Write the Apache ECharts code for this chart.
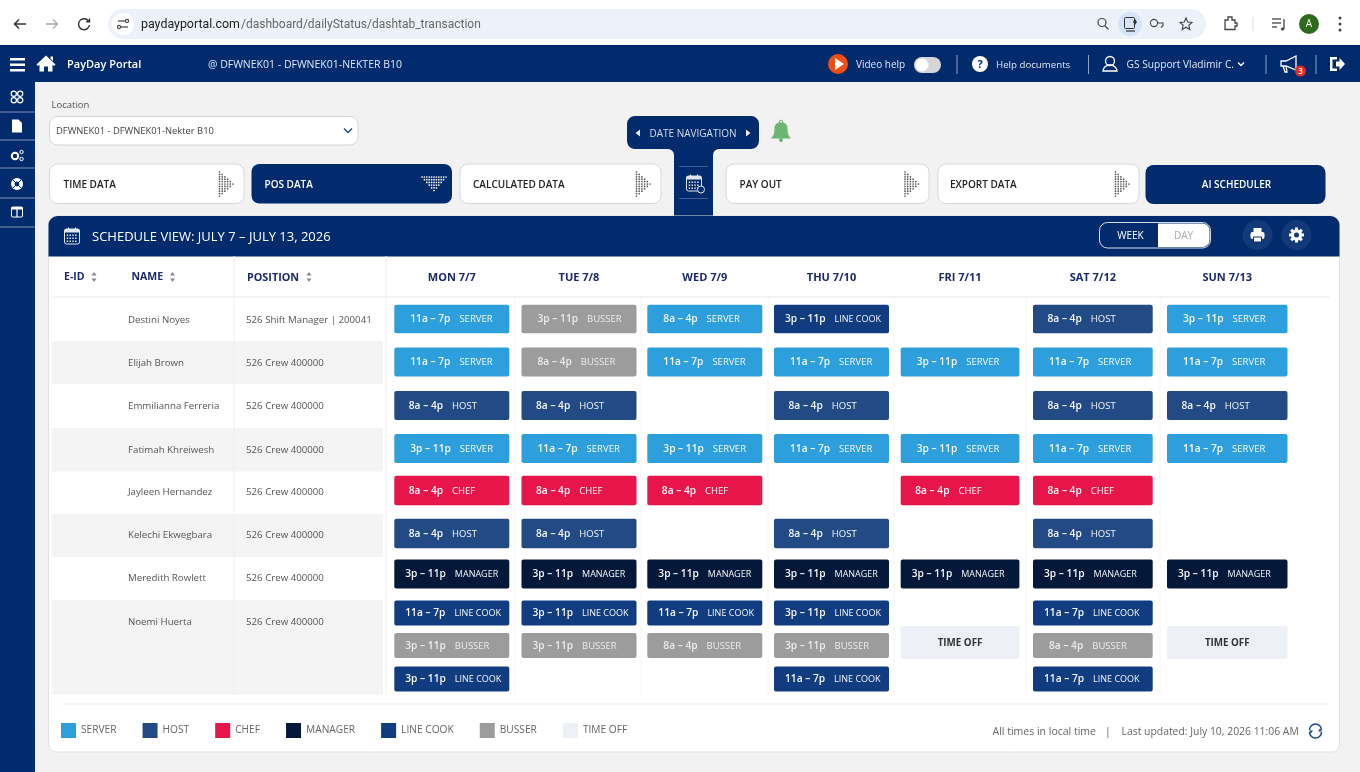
<!DOCTYPE html>
<html>
<head>
<meta charset="utf-8">
<title>PayDay Portal schedule</title>
<script src="https://cdn.jsdelivr.net/npm/echarts@6/dist/echarts.min.js"></script>
<style>
html, body { margin: 0; padding: 0; background: #f2f2f2; }
#main { width: 1360px; height: 772px; }
</style>
</head>
<body>
<div id="main"></div>
<script>
// ---- data ----
const days = ['MON 7/7', 'TUE 7/8', 'WED 7/9', 'THU 7/10', 'FRI 7/11', 'SAT 7/12', 'SUN 7/13'];
const roles = ['SERVER', 'HOST', 'CHEF', 'MANAGER', 'LINE COOK', 'BUSSER', 'TIME OFF'];
const employees = ['Destini Noyes', 'Elijah Brown', 'Emmilianna Ferreria', 'Fatimah Khreiwesh', 'Jayleen Hernandez', 'Kelechi Ekwegbara', 'Meredith Rowlett', 'Noemi Huerta'];
const positions = ['526 Shift Manager | 200041', '526 Crew 400000', '526 Crew 400000', '526 Crew 400000', '526 Crew 400000', '526 Crew 400000', '526 Crew 400000', '526 Crew 400000'];

// one list per table lane, Monday to Sunday, null = no shift
const destiniShifts = [['11a – 7p', 'SERVER'], ['3p – 11p', 'BUSSER'], ['8a – 4p', 'SERVER'], ['3p – 11p', 'LINE COOK'], null, ['8a – 4p', 'HOST'], ['3p – 11p', 'SERVER']];
const elijahShifts = [['11a – 7p', 'SERVER'], ['8a – 4p', 'BUSSER'], ['11a – 7p', 'SERVER'], ['11a – 7p', 'SERVER'], ['3p – 11p', 'SERVER'], ['11a – 7p', 'SERVER'], ['11a – 7p', 'SERVER']];
const emmiShifts = [['8a – 4p', 'HOST'], ['8a – 4p', 'HOST'], null, ['8a – 4p', 'HOST'], null, ['8a – 4p', 'HOST'], ['8a – 4p', 'HOST']];
const fatimahShifts = [['3p – 11p', 'SERVER'], ['11a – 7p', 'SERVER'], ['3p – 11p', 'SERVER'], ['11a – 7p', 'SERVER'], ['3p – 11p', 'SERVER'], ['11a – 7p', 'SERVER'], ['11a – 7p', 'SERVER']];
const jayleenShifts = [['8a – 4p', 'CHEF'], ['8a – 4p', 'CHEF'], ['8a – 4p', 'CHEF'], null, ['8a – 4p', 'CHEF'], ['8a – 4p', 'CHEF'], null];
const kelechiShifts = [['8a – 4p', 'HOST'], ['8a – 4p', 'HOST'], null, ['8a – 4p', 'HOST'], null, ['8a – 4p', 'HOST'], null];
const meredithShifts = [['3p – 11p', 'MANAGER'], ['3p – 11p', 'MANAGER'], ['3p – 11p', 'MANAGER'], ['3p – 11p', 'MANAGER'], ['3p – 11p', 'MANAGER'], ['3p – 11p', 'MANAGER'], ['3p – 11p', 'MANAGER']];
const noemiShifts1 = [['11a – 7p', 'LINE COOK'], ['3p – 11p', 'LINE COOK'], ['11a – 7p', 'LINE COOK'], ['3p – 11p', 'LINE COOK'], null, ['11a – 7p', 'LINE COOK'], null];
const noemiShifts2 = [['3p – 11p', 'BUSSER'], ['3p – 11p', 'BUSSER'], ['8a – 4p', 'BUSSER'], ['3p – 11p', 'BUSSER'], ['', 'TIME OFF'], ['8a – 4p', 'BUSSER'], ['', 'TIME OFF']];
const noemiShifts3 = [['3p – 11p', 'LINE COOK'], null, null, ['11a – 7p', 'LINE COOK'], null, ['11a – 7p', 'LINE COOK'], null];
const lanes = [destiniShifts, elijahShifts, emmiShifts, fatimahShifts, jayleenShifts, kelechiShifts, meredithShifts, noemiShifts1, noemiShifts2, noemiShifts3];

// ---- layout and styles ----
const navy = '#022b6d';
const font = '"Open Sans", sans-serif';
const roleColors = { 'SERVER': '#2c9fdc', 'HOST': '#224a85', 'CHEF': '#e8154a', 'MANAGER': '#04193a', 'LINE COOK': '#113d80', 'BUSSER': '#9c9c9c', 'TIME OFF': '#edf0f6' };
const roleTextLeft = { 'SERVER': 16, 'HOST': 14.5, 'CHEF': 14.5, 'MANAGER': 11, 'LINE COOK': 11, 'BUSSER': 16 };
const dayLeft = [394.3, 521.5, 647.3, 774, 900.7, 1033, 1167];
const dayWidth = [115, 115, 115, 115, 118.7, 119.7, 120.5];
const laneCenter = [21, 64, 107.5, 150.5, 192.5, 235.5, 276, 315, 347.5, 381];
const laneHeight = [28.5, 29, 29, 29, 29.5, 29.5, 29, 25, 25, 25];
const rowTextY = [319, 362, 405.5, 449.5, 491.5, 534.5, 577.5, 621.5];
const stripeBands = [[341, 43], [428, 43.5], [514, 43], [600, 94.5]];
const columnRules = [515, 641, 768, 894, 1026, 1160];

// ---- graphic helpers ----
let shapeCount = 0;
function rect(x, y, w, h, fill, r, stroke) {
    return { type: 'rect', shape: { x: x, y: y, width: w, height: h, r: r || 0 }, style: { fill: fill, stroke: stroke || null, lineWidth: 1 } };
}
function text(x, y, str, size, color, weight, align) {
    return { type: 'text', x: x, y: y + 1, style: { text: str, fontSize: size, fill: color, fontWeight: weight || 400, fontFamily: font, align: align || 'left', verticalAlign: 'middle' } };
}
function line(x1, y1, x2, y2, color, w) {
    return { type: 'line', shape: { x1: x1, y1: y1, x2: x2, y2: y2 }, style: { stroke: color, lineWidth: w || 1 } };
}
function circle(x, y, r, fill, stroke, w) {
    return { type: 'circle', shape: { cx: x, cy: y, r: r }, style: { fill: fill, stroke: stroke || null, lineWidth: w || 1 } };
}
function tri(points, fill) {
    return { type: 'polygon', shape: { points: points }, style: { fill: fill } };
}
// svg path icon, drawn around 0,0
function icon(d, x, y, fill, stroke, w) {
    const name = 'iconShape' + (shapeCount++);
    echarts.graphic.registerShape(name, echarts.graphic.extendPath(d, {}));
    return { type: name, x: x, y: y, style: { fill: fill || null, stroke: stroke || null, lineWidth: w || 1 } };
}
function dotsRight(x, y, color) {
    const out = [];
    [11, 9, 7, 5, 3, 1].forEach((n, c) => {
        for (let i = 0; i < n; i++) out.push(circle(x + c * 2.7, y + (i - (n - 1) / 2) * 2.4, 0.85, color));
    });
    return out;
}
function dotsDown(x, y, color) {
    const out = [];
    [11, 9, 7, 5, 3, 1].forEach((n, c) => {
        for (let i = 0; i < n; i++) out.push(circle(x + (i - (n - 1) / 2) * 2.4, y + c * 2.7, 0.85, color));
    });
    return out;
}
// small calendar with date dots
function calendar(x, y, color, bg) {
    const out = [rect(x, y, 15, 15, bg, 2, color), rect(x, y, 15, 3.5, color, 1), line(x + 4, y - 1.5, x + 4, y + 1.5, color, 1.2), line(x + 11, y - 1.5, x + 11, y + 1.5, color, 1.2)];
    [0, 1, 2, 3].forEach(c => [0, 1, 2].forEach(r => out.push(rect(x + 2.2 + c * 2.8, y + 5.5 + r * 3, 1.5, 1.5, color))));
    return out;
}

// ---- page chrome ----
function browserBar() {
    return [
        rect(0, 0, 1360, 45, '#ffffff'),
        icon('M6 0H-5.5M-1-4.5L-5.5 0L-1 4.5', 20, 24, null, '#333', 1.5),
        icon('M-6 0H5.5M1-4.5L5.5 0L1 4.5', 52, 24, null, '#aaa', 1.3),
        icon('M4.5-3A5.5 5.5 0 1 0 5.5 1M5.5-5.5V-2.2H2.2', 84, 24, null, '#333', 1.4),
        rect(108, 9, 1098, 30, '#edf2fa', 15),
        circle(123, 24, 11, '#ffffff'),
        line(118, 21, 125, 21, '#444', 1.2), circle(127, 21, 1.6, null, '#444', 1.1),
        line(121, 27, 128, 27, '#444', 1.2), circle(119, 27, 1.6, null, '#444', 1.1),
        { type: 'text', x: 141, y: 25, style: { text: 'paydayportal.com', fontSize: 12.4, fill: '#222', fontFamily: 'Roboto', verticalAlign: 'middle' } },
        { type: 'text', x: 241, y: 25, style: { text: '/dashboard/dailyStatus/dashtab_transaction', fontSize: 12, fill: '#666', fontFamily: 'Roboto', verticalAlign: 'middle' } },
        circle(1102, 22.5, 4, null, '#444', 1.2), line(1105, 26, 1108.5, 29.5, '#444', 1.3),
        circle(1130, 24, 12, '#d6e4f7'),
        rect(1124.5, 17.5, 10, 11, null, 1, '#333'), line(1126, 31, 1135, 31, '#333', 1.2), tri([[1135, 19], [1137, 22], [1135, 25], [1133, 22]], '#333'),
        circle(1154, 23, 3.6, null, '#444', 1.1), icon('M3.6-1H9V1.5L7 3.5', 1154, 24, null, '#444', 1.1),
        icon('M0-6L1.7-2L6-1.5L2.8 1.3L3.8 5.5L0 3.2L-3.8 5.5L-2.8 1.3L-6-1.5L-1.7-2Z', 1186, 24, null, '#444', 1.1),
        icon('M-5-3H-2V-6H2V-3H5V0H7V3H5V6.5H-5Z', 1230, 23, null, '#444', 1.3),
        line(1253, 17, 1253, 31, '#d5dbe6', 1),
        line(1272, 19, 1281, 19, '#444', 1.3), line(1272, 23, 1281, 23, '#444', 1.3), line(1272, 27, 1277, 27, '#444', 1.3),
        line(1284, 19, 1284, 29, '#444', 1.3), circle(1282.5, 29, 1.6, '#444'),
        circle(1309, 24, 10, '#2d6a1e'),
        text(1309, 23.5, 'A', 10, '#ffffff', 500, 'center'),
        circle(1340, 18, 1.5, '#444'), circle(1340, 24, 1.5, '#444'), circle(1340, 30, 1.5, '#444')
    ];
}

function navBar() {
    return [
        rect(0, 45, 1360, 37, navy),
        rect(10, 58, 15, 2.5, '#fff'), rect(10, 63.5, 15, 2.5, '#fff'), rect(10, 69, 15, 2.5, '#fff'),
        icon('M0-8.5L9.5 0.5L8 2L6.5 0.8V7.5H2V2.5H-2V7.5H-6.5V0.8L-8 2L-9.5 0.5ZM4.5-7.5H7V-3L4.5-5.2Z', 46, 64, '#ffffff'),
        text(67, 64, 'PayDay Portal', 11, '#ffffff', 600),
        text(208, 64, '@ DFWNEK01 - DFWNEK01-NEKTER B10', 10.5, '#dfe6f2'),
        circle(838, 64, 10, '#f04e16'),
        tri([[835, 58], [835, 70], [844, 64]], '#ffffff'),
        text(856, 64, 'Video help', 10, '#dfe6f2'),
        rect(914, 57, 27, 16, '#d4d6da', 8), circle(922, 65, 6.5, '#ffffff'),
        line(957, 55, 957, 74, '#8ea3c6'),
        circle(980, 64, 8, '#ffffff'),
        { type: 'text', x: 980, y: 65, style: { text: '?', fontSize: 11, fill: navy, fontWeight: 700, fontFamily: font, align: 'center', verticalAlign: 'middle' } },
        text(996, 64, 'Help documents', 9.7, '#dfe6f2'),
        line(1088.5, 55, 1088.5, 74, '#8ea3c6'),
        circle(1110, 61, 4.5, null, '#fff', 1.3),
        icon('M-7 7C-7 3-4 2-2 1H2C4 2 7 3 7 7Z', 1110, 64, null, '#fff', 1.3),
        text(1126.5, 64, 'GS Support Vladimir C.', 10.2, '#dfe6f2'),
        icon('M-3-1.5L0 1.5L3-1.5', 1241, 64, null, '#fff', 1.3),
        line(1266, 55, 1266, 74, '#8ea3c6'),
        icon('M-8-3H-3L7-8V6L-3 2H-8ZM-6 2L-4 8H-2L-3 2', 1289, 64, null, '#fff', 1.3),
        circle(1300.5, 71, 5.5, '#e52b1f'),
        text(1300.5, 70.5, '3', 8, '#ffffff', 600, 'center'),
        line(1316, 55, 1316, 74, '#8ea3c6'),
        icon('M-7-7H0V-4.5H-4.5V4.5H0V7H-7ZM-1-2.5H2.5V-6L8 0L2.5 6V2.5H-1Z', 1337, 64, '#ffffff')
    ];
}

function sideBar() {
    const ruleY = [82, 112, 140, 168, 198, 227];
    const out = [rect(0, 82, 35, 690, navy)];
    ruleY.slice(1).forEach(y => out.push(line(0, y, 35, y, '#7f93b8', 1)));
    [[-3.2, -3.2], [3.2, -3.2], [-3.2, 3.2], [3.2, 3.2]].forEach(p => out.push(circle(17 + p[0], 97 + p[1], 2.6, null, '#fff', 1.2)));
    out.push(icon('M-5-6.5H1.5L5-3V6.5H-5Z', 17, 126, '#ffffff'));
    out.push(circle(15, 156, 3.2, null, '#fff', 2), circle(21.5, 152, 1.7, null, '#fff', 1), circle(21.5, 159, 1.7, null, '#fff', 1));
    out.push(circle(17, 184, 6, '#ffffff'), circle(17, 184, 2.4, navy), line(13, 180, 21, 188, navy, 1), line(21, 180, 13, 188, navy, 1));
    out.push(rect(11.5, 207, 11, 10, null, 1, '#fff'), rect(11.5, 207, 11, 2.5, '#fff'), line(17, 207, 17, 217, '#fff', 1.2));
    return out;
}

function toolbar() {
    const tShape = 'M8 0H124A8 8 0 0 1 132 8V25A8 8 0 0 1 124 33H92A6 6 0 0 0 86 39V100H47V39A6 6 0 0 0 41 33H8A8 8 0 0 1 0 25V8A8 8 0 0 1 8 0Z';
    const whiteTab = [[49.5, 194.5, 'TIME DATA', 63.5, 219.5], [460, 201, 'CALCULATED DATA', 473, 636.5], [726, 203, 'PAY OUT', 739.5, 905], [938, 201, 'EXPORT DATA', 950, 1115.5]];
    let out = [
        rect(35, 82, 1325, 690, '#f2f2f2'),
        text(51.5, 104, 'Location', 9.5, '#555'),
        rect(49.5, 116.5, 308.5, 28.5, '#ffffff', 8, '#d6d6d6'),
        text(56, 130, 'DFWNEK01 - DFWNEK01-Nekter B10', 9.4, '#444'),
        icon('M-4-2L0 2L4-2', 348, 130.5, null, '#1d4a8e', 1.5),
        icon(tShape, 627, 116, navy),
        tri([[640, 129.5], [640, 136.5], [635.5, 133]], '#e8edf5'),
        tri([[746, 129.5], [746, 136.5], [750.5, 133]], '#e8edf5'),
        text(693, 133, 'DATE NAVIGATION', 10, '#d5deee', 400, 'center'),
        icon('M-10 8C-7 5-6.5 2-6.5-2.5C-6.5-6-4-8 0-8C4-8 6.5-6 6.5-2.5C6.5 2 7 5 10 8Z', 781, 130.5, '#6db672'),
        circle(781, 122, 1.8, null, '#6db672', 1), circle(781, 140, 2, '#6db672'),
        line(679, 166.5, 708, 166.5, '#3c5d97'), line(679, 198.5, 708, 198.5, '#3c5d97')
    ];
    out = out.concat(calendar(686.5, 176, '#dde5f2', navy));
    out.push(circle(701, 189.5, 3.5, navy, '#dde5f2', 1));
    whiteTab.forEach(t => {
        out.push(rect(t[0], 164, t[1], 39.5, '#ffffff', 8, '#d8d8d8'));
        out.push(text(t[3], 184, t[2], 10, '#222', 600));
        out = out.concat(dotsRight(t[4], 184, '#555'));
    });
    out.push(rect(251.5, 164, 200.5, 39.5, navy, 8));
    out.push(text(264.5, 184, 'POS DATA', 10, '#ffffff', 600));
    out = out.concat(dotsDown(434, 177, '#ffffff'));
    out.push(rect(1145.5, 165, 180, 39, navy, 8));
    out.push(text(1236.5, 184, 'AI SCHEDULER', 10, '#ffffff', 600, 'center'));
    return out;
}

function gear(x, y) {
    const out = [];
    [0, 45, 90, 135].forEach(a => {
        const dx = Math.cos(a * Math.PI / 180) * 7.5, dy = Math.sin(a * Math.PI / 180) * 7.5;
        out.push(line(x - dx, y - dy, x + dx, y + dy, '#fff', 3));
    });
    out.push(circle(x, y, 5.7, '#fff'), circle(x, y, 2.5, '#123a78'));
    return out;
}

function scheduleCard() {
    let out = [
        rect(48.5, 216, 1291, 536, '#ffffff', 8, '#e2e2e2'),
        rect(48.5, 216, 1291, 40.5, navy, [9, 9, 0, 0])
    ];
    out = out.concat(calendar(64.5, 229, '#dde5f2', navy));
    out.push(
        text(92, 236, 'SCHEDULE VIEW: JULY 7 – JULY 13, 2026', 13, '#ffffff', 500),
        rect(1099.5, 222.5, 111, 25.5, navy, 8, '#d5deee'),
        rect(1158, 223.5, 51.5, 23.5, '#ffffff', [0, 7, 7, 0]),
        text(1130.5, 235, 'WEEK', 10, '#ffffff', 500, 'center'),
        text(1183.5, 235, 'DAY', 10, '#aaaaaa', 500, 'center'),
        circle(1257.5, 235, 15, '#123a78'), circle(1296.5, 235, 15, '#123a78'),
        rect(1253.5, 228, 8, 4, '#fff'), rect(1250.5, 232, 14, 7, '#fff', 2), rect(1253.5, 237, 8, 5, '#fff', 0, navy),
        text(64, 276.5, 'E-ID', 10.5, '#1b2a6b', 700),
        text(131.5, 276.5, 'NAME', 10.5, '#1b2a6b', 700),
        text(247, 276.5, 'POSITION', 10.8, '#1b2a6b', 700)
    );
    out = out.concat(gear(1296.5, 235));
    [94, 172.5, 309].forEach(x => {
        out.push(tri([[x - 2.5, 275.5], [x + 2.5, 275.5], [x, 272]], '#888'));
        out.push(tri([[x - 2.5, 278.5], [x + 2.5, 278.5], [x, 282]], '#888'));
    });
    stripeBands.forEach(b => out.push(rect(52, b[0], 331, b[1], '#f4f4f4')));
    out.push(line(52, 297, 1330, 297, '#e9e9e9', 1));
    out.push(line(234, 256, 234, 695, '#f0f0f0', 1), line(386, 256, 386, 695, '#f0f0f0', 1));
    columnRules.forEach(x => out.push(line(x, 298, x, 695, '#f6f6f6', 1)));
    out.push(line(62, 704, 1328, 704, '#efefef', 1));
    employees.forEach((name, i) => {
        out.push(text(128, rowTextY[i], name, 9.7, '#555'));
        out.push(text(246, rowTextY[i], positions[i], 9.7, '#555'));
    });
    out.push(text(992.5, 731, 'All times in local time', 10.5, '#666'));
    out.push(text(1108, 731, '|', 10.5, '#666', 400, 'center'));
    out.push(text(1121.5, 731, 'Last updated: July 10, 2026 11:06 AM', 10.4, '#666'));
    out.push(icon('M-6-1A6 6 0 0 1 6-1M6 1A6 6 0 0 1-6 1', 1315.5, 731, null, '#1d4a8e', 1.5));
    out.push(tri([[1309, 730.5], [1313, 730.5], [1311, 733.5]], '#1d4a8e'), tri([[1318, 731.5], [1322, 731.5], [1320, 728.5]], '#1d4a8e'));
    return out;
}

// ---- schedule marks ----
function shiftSeries(dayIndex, role) {
    const isOff = role === 'TIME OFF';
    const items = [];
    lanes.forEach((shifts, laneIndex) => {
        const s = shifts[dayIndex];
        if (s && s[1] === role) items.push({ time: s[0], lane: laneIndex, value: [0, laneCenter[laneIndex] - (isOff ? 3 : 0)] });
    });
    return {
        type: 'custom',
        name: role,
        coordinateSystem: 'cartesian2d',
        xAxisIndex: dayIndex,
        yAxisIndex: dayIndex,
        itemStyle: { color: roleColors[role] },
        encode: { x: 0, y: 1 },
        clip: false,
        silent: true,
        data: items,
        renderItem: function (params, api) {
            const item = items[params.dataIndex];
            const pos = api.coord([api.value(0), api.value(1)]);
            const w = api.size([1, 0])[0];
            const h = isOff ? 33 : laneHeight[item.lane];
            const left = pos[0] - w / 2;
            const box = { type: 'rect', shape: { x: left, y: pos[1] - h / 2, width: w, height: h, r: 2 }, style: { fill: roleColors[role] } };
            if (isOff) {
                return { type: 'group', children: [box, { type: 'text', x: pos[0], y: pos[1] + 1, style: { text: role, fontSize: 9.8, fontWeight: 700, fontFamily: font, fill: '#333', align: 'center', verticalAlign: 'middle' } }] };
            }
            const small = role === 'MANAGER' || role === 'LINE COOK';
            const textFill = role === 'BUSSER' ? '#ececec' : '#f4f7fb';
            const label = {
                type: 'text',
                x: left + (item.lane >= 7 && !(role === 'BUSSER' && item.time.charAt(0) === '8') ? 11 : roleTextLeft[role]),
                y: pos[1] + 0.5,
                style: {
                    text: '{t|' + item.time + '}{r|' + role + '}',
                    verticalAlign: 'middle',
                    rich: {
                        t: { fontSize: 10.2, fontWeight: 600, fontFamily: font, fill: textFill, color: textFill, verticalAlign: 'middle' },
                        r: { fontSize: small ? 9 : 9.5, fontWeight: 500, fontFamily: font, fill: textFill, color: textFill, verticalAlign: 'middle', padding: [0, 0, 0, 9] }
                    }
                }
            };
            return { type: 'group', children: [box, label] };
        }
    };
}

const myChart = echarts.init(document.getElementById('main'), null, { width: 1360, height: 772 });

const option = {
    animation: false,
    backgroundColor: '#f2f2f2',
    textStyle: { fontFamily: font },
    legend: {
        left: 56,
        top: 718,
        icon: 'rect',
        itemWidth: 15,
        itemHeight: 15,
        itemGap: 26,
        selectedMode: false,
        data: roles,
        textStyle: { fontSize: 10.2, color: '#666', fontFamily: font, padding: [3, 0, 0, 0] }
    },
    graphic: { elements: [].concat(browserBar(), toolbar(), scheduleCard(), navBar(), sideBar()) },
    grid: days.map((d, i) => ({ left: dayLeft[i], width: dayWidth[i], top: 298, height: 397 })),
    xAxis: days.map((d, i) => ({
        gridIndex: i,
        type: 'category',
        position: 'top',
        data: [d],
        axisLine: { show: false },
        axisTick: { show: false },
        axisLabel: { show: true, margin: 15, fontSize: 11, fontWeight: 700, color: '#1b2a6b', fontFamily: font }
    })),
    yAxis: days.map((d, i) => ({ gridIndex: i, type: 'value', inverse: true, min: 0, max: 397, show: false })),
    series: []
};

days.forEach((d, dayIndex) => {
    roles.forEach(role => option.series.push(shiftSeries(dayIndex, role)));
});

myChart.setOption(option);
</script>
</body>
</html>
